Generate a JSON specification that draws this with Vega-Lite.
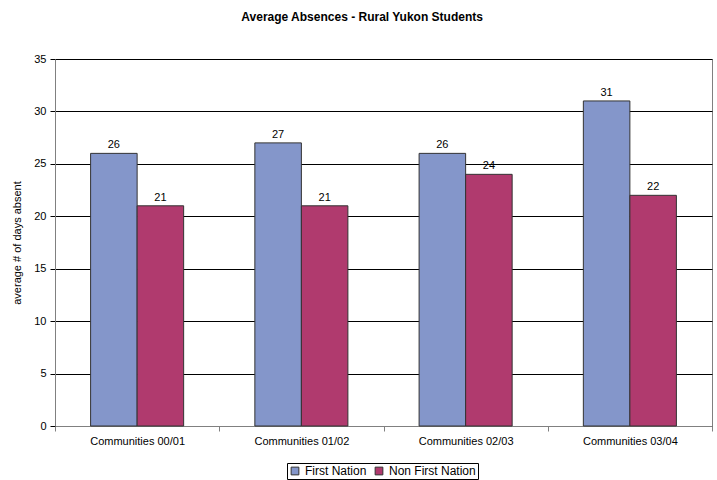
{
  "$schema": "https://vega.github.io/schema/vega-lite/v6.json",
  "width": 657,
  "height": 367,
  "autosize": {"type": "none"},
  "padding": {"left": 55, "top": 59, "right": 5, "bottom": 54},
  "background": "white",
  "config": {
    "font": "Liberation Sans",
    "view": {"stroke": "#808080", "strokeWidth": 1}
  },
  "title": {
    "text": "Average Absences - Rural Yukon Students",
    "fontSize": 12,
    "fontWeight": "bold",
    "color": "black",
    "anchor": "middle",
    "frame": "bounds",
    "offset": 29
  },
  "data": {
    "values": [
      {"period": "Communities 00/01", "group": "First Nation", "days": 26},
      {"period": "Communities 00/01", "group": "Non First Nation", "days": 21},
      {"period": "Communities 01/02", "group": "First Nation", "days": 27},
      {"period": "Communities 01/02", "group": "Non First Nation", "days": 21},
      {"period": "Communities 02/03", "group": "First Nation", "days": 26},
      {"period": "Communities 02/03", "group": "Non First Nation", "days": 24},
      {"period": "Communities 03/04", "group": "First Nation", "days": 31},
      {"period": "Communities 03/04", "group": "Non First Nation", "days": 22}
    ]
  },
  "encoding": {
    "x": {
      "field": "period",
      "type": "nominal",
      "scale": {"paddingInner": 0, "paddingOuter": 0},
      "axis": {
        "title": null,
        "labelAngle": 0,
        "labelFontSize": 11,
        "labelColor": "black",
        "labelPadding": 4,
        "tickBand": "extent",
        "tickSize": 5,
        "tickColor": "#808080",
        "domainColor": "#808080",
        "grid": false
      }
    },
    "xOffset": {
      "field": "group",
      "type": "nominal",
      "scale": {"paddingInner": 0, "paddingOuter": 0.765}
    },
    "y": {
      "field": "days",
      "type": "quantitative",
      "scale": {"domain": [0, 35], "nice": false},
      "axis": {
        "title": "average # of days absent",
        "titleFontSize": 11,
        "titleFontWeight": "normal",
        "titleColor": "black",
        "titlePadding": 11,
        "values": [0, 5, 10, 15, 20, 25, 30, 35],
        "labelFontSize": 11,
        "labelColor": "black",
        "labelPadding": 4,
        "tickSize": 5,
        "tickColor": "black",
        "domainColor": "#808080",
        "grid": true,
        "gridColor": "black",
        "gridOpacity": 1
      }
    }
  },
  "layer": [
    {
      "mark": {"type": "bar", "stroke": "#333333", "strokeWidth": 1},
      "encoding": {
        "color": {
          "field": "group",
          "type": "nominal",
          "scale": {"domain": ["First Nation", "Non First Nation"], "range": ["#8496CA", "#B03A6E"]},
          "legend": {
            "title": null,
            "orient": "none",
            "legendX": 232,
            "legendY": 404,
            "direction": "horizontal",
            "labelFontSize": 12,
            "labelColor": "black",
            "symbolType": "square",
            "symbolSize": 60,
            "symbolStrokeColor": "#333333",
            "symbolStrokeWidth": 1,
            "symbolOpacity": 1,
            "strokeColor": "black",
            "padding": 2,
            "columnPadding": 6,
            "labelOffset": 4
          }
        }
      }
    },
    {
      "mark": {"type": "text", "dy": -8, "fontSize": 11, "color": "black"},
      "encoding": {
        "text": {"field": "days", "type": "quantitative"}
      }
    }
  ]
}
